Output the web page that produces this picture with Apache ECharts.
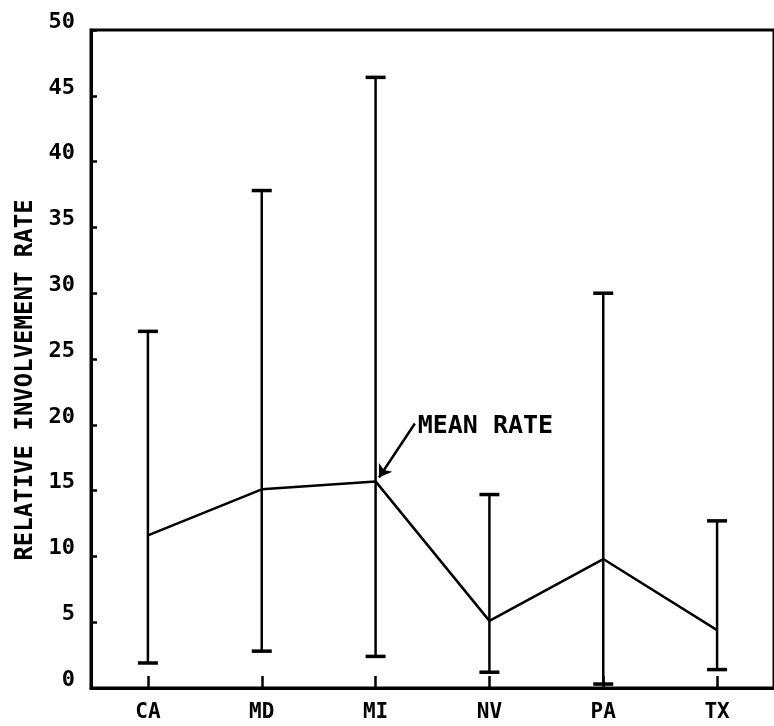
<!DOCTYPE html>
<html>
<head>
<meta charset="utf-8">
<script src="https://cdn.jsdelivr.net/npm/echarts@6/dist/echarts.min.js"></script>
<style>
html,body{margin:0;padding:0;background:#fff;}
#chart{width:774px;height:726px;}
</style>
</head>
<body>
<div id="chart"></div>
<script>
var categories = ['CA', 'MD', 'MI', 'NV', 'PA', 'TX'];
var meanRate = [11.6, 15.1, 15.7, 5.1, 9.8, 4.4];
var minRate = [1.9, 2.8, 2.4, 1.2, 0.3, 1.4];
var maxRate = [27.1, 37.8, 46.4, 14.7, 30.0, 12.7];
var yAxisTitle = 'RELATIVE INVOLVEMENT RATE';
var annotationText = 'MEAN RATE';
var annotationFrom = [2.345, 20.1];
var annotationTo = [2.03, 16.0];
var annotationLabelAt = [2.37, 19.9];

var FONT = 'DejaVu Sans Mono';
var chart = echarts.init(document.getElementById('chart'), null, {renderer: 'canvas'});

var rangeData = categories.map(function (c, i) { return [i, minRate[i], maxRate[i]]; });

var option = {
  backgroundColor: '#ffffff',
  animation: false,
  grid: {
    left: 91, top: 30, width: 691, height: 658,
    show: true, borderColor: '#000', borderWidth: 3, backgroundColor: 'transparent'
  },
  xAxis: [{
    type: 'category',
    data: categories,
    boundaryGap: true,
    axisLine: {lineStyle: {color: '#000', width: 3}},
    axisTick: {show: true, inside: true, alignWithLabel: true, length: 12, lineStyle: {color: '#000', width: 2.5}},
    axisLabel: {color: '#000', fontFamily: FONT, fontWeight: 'bold', fontSize: 21, margin: 14},
    splitLine: {show: false}
  }, {
    type: 'value',
    min: -0.5, max: 5.5,
    show: false,
    position: 'bottom'
  }],
  yAxis: {
    type: 'value',
    min: 0, max: 50, interval: 5,
    name: yAxisTitle,
    nameLocation: 'middle',
    nameRotate: 90,
    nameGap: 53,
    nameTextStyle: {color: '#000', fontFamily: FONT, fontWeight: 'bold', fontSize: 24, padding: [0, 42, 0, 0]},
    axisLine: {show: true, onZero: false, lineStyle: {color: '#000', width: 3}},
    axisTick: {show: true, inside: true, length: 6, lineStyle: {color: '#000', width: 2.5}},
    axisLabel: {color: '#000', fontFamily: FONT, fontWeight: 'bold', fontSize: 22, margin: 16,
      verticalAlign: 'bottom', lineHeight: 16},
    splitLine: {show: false}
  },
  series: [
    {
      type: 'custom',
      name: 'range',
      data: rangeData,
      encode: {x: 0, y: [1, 2]},
      renderItem: function (params, api) {
        var idx = api.value(0);
        var lo = api.coord([idx, api.value(1)]);
        var hi = api.coord([idx, api.value(2)]);
        var hw = 10;
        var st = {stroke: '#000', lineWidth: 2.5, fill: null};
        return {
          type: 'group',
          children: [
            {type: 'line', shape: {x1: hi[0], y1: hi[1], x2: lo[0], y2: lo[1]}, style: st},
            {type: 'line', shape: {x1: hi[0] - hw, y1: hi[1], x2: hi[0] + hw, y2: hi[1]}, style: {stroke: '#000', lineWidth: 3.5}},
            {type: 'line', shape: {x1: lo[0] - hw, y1: lo[1], x2: lo[0] + hw, y2: lo[1]}, style: {stroke: '#000', lineWidth: 3.5}}
          ]
        };
      },
      z: 2
    },
    {
      type: 'line',
      name: 'mean',
      data: meanRate,
      symbol: 'none',
      lineStyle: {color: '#000', width: 2.5},
      z: 3
    },
    {
      type: 'line',
      name: 'annotation',
      xAxisIndex: 1,
      data: [],
      symbol: 'none',
      z: 4,
      markLine: {
        silent: true,
        symbol: ['none', 'arrow'],
        symbolSize: 12,
        lineStyle: {color: '#000', width: 2.5, type: 'solid'},
        label: {show: false},
        data: [[{coord: annotationFrom}, {coord: annotationTo}]]
      },
      markPoint: {
        silent: true,
        symbol: 'circle',
        symbolSize: 0,
        data: [{coord: annotationLabelAt, value: annotationText}],
        label: {
          show: true, position: 'right', distance: 0,
          formatter: annotationText,
          color: '#000', fontFamily: FONT, fontWeight: 'bold', fontSize: 25
        }
      }
    }
  ]
};
chart.setOption(option);
</script>
</body>
</html>
